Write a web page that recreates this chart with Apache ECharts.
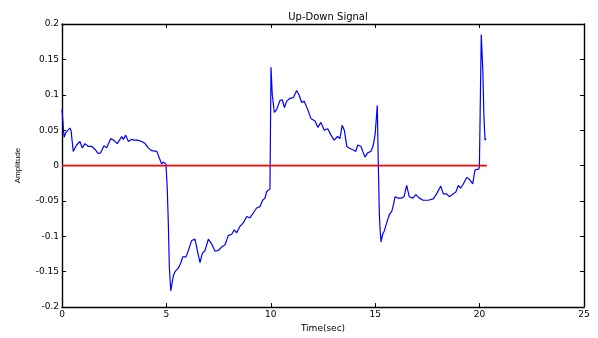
<!DOCTYPE html>
<html>
<head>
<meta charset="utf-8">
<script src="https://cdn.jsdelivr.net/npm/echarts@6/dist/echarts.min.js"></script>
<style>
html,body{margin:0;padding:0;background:#fff;overflow:hidden;}
#c{width:598px;height:338px;}
</style>
</head>
<body>
<div id="c"></div>
<script>
var titleText = 'Up-Down Signal';
var xName = 'Time(sec)';
var yName = 'Amplitude';
var xTicks = {min: 0, max: 25, interval: 5};
var yTicks = {min: -0.2, max: 0.2, interval: 0.05};

var signalTime = [
  0, 0.1, 0.19, 0.38, 0.43, 0.54, 0.70, 0.86, 0.97, 1.10, 1.26, 1.42, 1.58, 1.74, 1.85, 2.01, 2.14, 2.33, 2.46, 2.65,
  2.86, 2.94, 3.05, 3.18, 3.34, 3.45, 3.61, 3.82, 3.98, 4.13, 4.30, 4.54, 4.69, 4.77, 4.85, 4.98,
  5.01, 5.04, 5.09, 5.14, 5.21, 5.25, 5.33, 5.41, 5.57, 5.68, 5.78, 5.94, 6.05, 6.21, 6.37, 6.48, 6.61, 6.72, 6.85,
  7.01, 7.17, 7.33, 7.49, 7.65, 7.81, 7.96, 8.13, 8.24, 8.37, 8.52, 8.68, 8.85, 9.00, 9.16, 9.32, 9.48, 9.61, 9.72,
  9.80, 9.88, 9.96,
  10.01, 10.07, 10.17, 10.28, 10.44, 10.55, 10.65, 10.76, 10.92, 11.08, 11.24, 11.35, 11.48, 11.60, 11.77, 11.93,
  12.12, 12.25, 12.40, 12.56, 12.73, 12.88, 13.04, 13.20, 13.31, 13.42, 13.52, 13.64, 13.79, 13.95, 14.07, 14.16,
  14.32, 14.40, 14.51, 14.64, 14.80, 14.91, 15.00, 15.10,
  15.15, 15.20, 15.23, 15.28, 15.36, 15.44, 15.55, 15.68, 15.79, 15.87, 15.95, 16.11, 16.27, 16.38, 16.51, 16.63,
  16.80, 16.95, 17.11, 17.30, 17.54, 17.78, 17.94, 18.14, 18.26, 18.42, 18.55, 18.74, 18.87, 18.98, 19.09, 19.22,
  19.38, 19.50, 19.67, 19.78, 19.86, 19.96, 19.99, 20.08, 20.15, 20.21, 20.26, 20.31
];
var signalAmp = [
  0.079, 0.040, 0.047, 0.053, 0.050, 0.020, 0.029, 0.034, 0.025, 0.031, 0.027, 0.027, 0.023, 0.017, 0.018, 0.028, 0.025, 0.038, 0.036, 0.031,
  0.041, 0.037, 0.043, 0.034, 0.037, 0.036, 0.036, 0.034, 0.031, 0.025, 0.021, 0.020, 0.0085, 0.002, 0.005, 0.002,
  0.000, -0.032, -0.079, -0.143, -0.177, -0.175, -0.156, -0.150, -0.145, -0.138, -0.129, -0.129, -0.120, -0.106, -0.104, -0.120, -0.137, -0.124, -0.120,
  -0.104, -0.111, -0.121, -0.120, -0.115, -0.112, -0.099, -0.097, -0.091, -0.095, -0.086, -0.081, -0.072, -0.074, -0.067, -0.060, -0.058, -0.049, -0.046,
  -0.037, -0.035, -0.033,
  0.139, 0.100, 0.075, 0.079, 0.092, 0.093, 0.082, 0.091, 0.095, 0.096, 0.106, 0.100, 0.089, 0.091, 0.079, 0.066,
  0.063, 0.054, 0.061, 0.050, 0.052, 0.043, 0.036, 0.041, 0.038, 0.057, 0.050, 0.027, 0.024, 0.022, 0.020, 0.029,
  0.027, 0.020, 0.012, 0.018, 0.020, 0.029, 0.045, 0.085,
  0.000, -0.069, -0.088, -0.108, -0.097, -0.092, -0.081, -0.069, -0.065, -0.056, -0.044, -0.046, -0.046, -0.044, -0.028, -0.044,
  -0.046, -0.041, -0.046, -0.049, -0.049, -0.047, -0.040, -0.029, -0.040, -0.040, -0.044, -0.040, -0.037, -0.028, -0.032, -0.026,
  -0.017, -0.019, -0.026, -0.006, -0.008, -0.005, -0.002, 0.185, 0.137, 0.068, 0.036, 0.038
];
var refTime = [0, 20.35];
var refAmp = [0, 0];

function zip(a, b) { return a.map(function (v, i) { return [v, b[i]]; }); }

var fontFam = 'DejaVu Sans';
var axisCommon = {
  axisLine: {show: true, onZero: false, lineStyle: {color: '#000', width: 1.4}},
  axisTick: {show: true, inside: true, length: 4, lineStyle: {color: '#000', width: 1}},
  splitLine: {show: false}
};

var chart = echarts.init(document.getElementById('c'), null, {renderer: 'canvas'});
chart.setOption({
  animation: false,
  backgroundColor: '#fff',
  title: {
    text: titleText, left: 323, top: 7, textAlign: 'center',
    textStyle: {fontFamily: fontFam, fontSize: 10, fontWeight: 'normal', color: '#000'}
  },
  grid: {left: 62, right: 14, top: 24, bottom: 23, containLabel: false},
  xAxis: [
    Object.assign({
      type: 'value', position: 'bottom', min: xTicks.min, max: xTicks.max, interval: xTicks.interval,
      axisLabel: {color: '#000', fontFamily: fontFam, fontSize: 9, margin: 3},
      name: xName, nameLocation: 'middle', nameGap: 14,
      nameTextStyle: {fontFamily: fontFam, fontSize: 9, color: '#000'}
    }, axisCommon),
    Object.assign({
      type: 'value', position: 'top', min: xTicks.min, max: xTicks.max, interval: xTicks.interval,
      axisLabel: {show: false}
    }, axisCommon)
  ],
  yAxis: [
    Object.assign({
      type: 'value', position: 'left', min: yTicks.min, max: yTicks.max, interval: yTicks.interval,
      axisLabel: {color: '#000', fontFamily: fontFam, fontSize: 9, margin: 3},
      name: yName, nameLocation: 'middle', nameGap: 40,
      nameTextStyle: {fontFamily: 'Liberation Sans', fontSize: 8, color: '#000'}
    }, axisCommon),
    Object.assign({
      type: 'value', position: 'right', min: yTicks.min, max: yTicks.max, interval: yTicks.interval,
      axisLabel: {show: false}
    }, axisCommon)
  ],
  series: [
    {
      type: 'line', data: zip(signalTime, signalAmp), showSymbol: false, symbol: 'none',
      lineStyle: {color: '#0000ff', width: 1.2}, z: 2
    },
    {
      type: 'line', data: zip(refTime, refAmp), showSymbol: false, symbol: 'none',
      lineStyle: {color: '#ff0000', width: 1.8}, z: 3
    }
  ]
});
</script>
</body>
</html>
